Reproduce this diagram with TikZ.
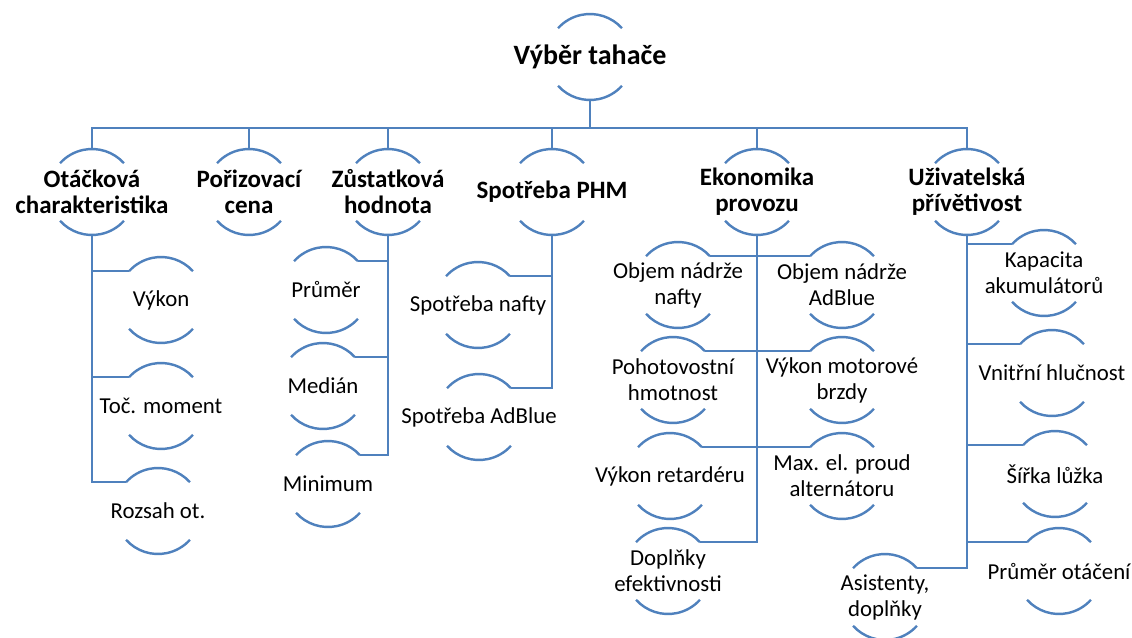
\documentclass[tikz,border=0pt]{standalone}
\usepackage{fontspec}
\setmainfont{Carlito}
\usetikzlibrary{calc}
\definecolor{ln}{RGB}{79,129,189}
\tikzset{
  arcl/.style={draw=ln, line width=2.4pt},
  conn/.style={draw=ln, line width=2.4pt},
  rootlbl/.style={font=\fontsize{28}{32}\selectfont\bfseries, align=center, inner sep=0pt},
  catlbl/.style={font=\fontsize{25}{26}\selectfont\bfseries, align=center, inner sep=0pt},
  itemlbl/.style={font=\fontsize{22.8}{26}\selectfont, align=center, inner sep=0pt},
}
% name, x, y, style, text
\newcommand{\circnode}[5]{%
  \coordinate (#1) at (#2,#3);
  \node[#4] (#1-t) at (#1) {#5};
  \coordinate (#1-tl) at ($(#1)+(138:43pt)$);
  \coordinate (#1-tr) at ($(#1)+(42:43pt)$);
  \coordinate (#1-bl) at ($(#1)+(222:43pt)$);
  \coordinate (#1-top) at ($(#1)+(90:43pt)$);
  \coordinate (#1-bot) at ($(#1)+(270:43pt)$);
  \draw[arcl] (#1-tr) arc[start angle=42, end angle=138, radius=43pt];
  \draw[arcl] (#1-bl) arc[start angle=222, end angle=318, radius=43pt];
}
\begin{document}
\begin{tikzpicture}[x=1pt, y=-1pt]
\fill[white] (0,0) rectangle (1132,637);
\useasboundingbox (0,0) rectangle (1132,637);

% root
\circnode{root}{590}{57}{rootlbl}{Výběr tahače}
% level 1
\circnode{A}{92}{192}{catlbl}{Otáčková\\charakteristika}
\circnode{B}{249}{192}{catlbl}{Pořizovací\\cena}
\circnode{C}{388}{192}{catlbl}{Zůstatková\\hodnota}
\circnode{D}{552}{192}{catlbl}{Spotřeba PHM}
\circnode{E}{757}{192}{catlbl}{Ekonomika\\provozu}
\circnode{F}{967}{192}{catlbl}{Uživatelská\\přívětivost}

% level 2
\circnode{A1}{161}{300}{itemlbl}{Výkon}
\circnode{A2}{161}{406}{itemlbl}{Toč. moment}
\circnode{A3}{158}{511}{itemlbl}{Rozsah ot.}

\circnode{C1}{326}{290}{itemlbl}{Průměr}
\circnode{C2}{323}{386}{itemlbl}{Medián}
\circnode{C3}{328}{484}{itemlbl}{Minimum}

\circnode{D1}{478}{305}{itemlbl}{Spotřeba nafty}
\circnode{D2}{479}{417}{itemlbl}{Spotřeba AdBlue}

\circnode{E1}{678}{285}{itemlbl}{Objem nádrže\\nafty}
\circnode{E2}{673}{380}{itemlbl}{Pohotovostní\\hmotnost}
\circnode{E3}{670}{476}{itemlbl}{Výkon retardéru}
\circnode{E4}{668}{571}{itemlbl}{Doplňky\\efektivnosti}
\circnode{E5}{842}{285}{itemlbl}{Objem nádrže\\AdBlue}
\circnode{E6}{842}{380}{itemlbl}{Výkon motorové\\brzdy}
\circnode{E7}{842}{476}{itemlbl}{Max. el. proud\\alternátoru}

\circnode{F1}{1044}{273}{itemlbl}{Kapacita\\akumulátorů}
\circnode{F2}{1052}{373}{itemlbl}{Vnitřní hlučnost}
\circnode{F3}{1055}{474}{itemlbl}{Šířka lůžka}
\circnode{F4}{1059}{571}{itemlbl}{Průměr otáčení}
\circnode{F5}{885}{597}{itemlbl}{Asistenty,\\doplňky}

% bus
\coordinate (bus) at (590,128);
\draw[conn] (root-bot) -- (bus);
\draw[conn] (A-top) -- (A-top |- bus) -- (F-top |- bus) -- (F-top);
\foreach \n in {B,C,D,E} \draw[conn] (\n-top |- bus) -- (\n-top);

% level-2 connectors
\foreach \n in {A1,A2,A3} \draw[conn] (A-bot) |- (\n-tl);
\foreach \n in {C1,C2,C3} \draw[conn] (C-bot) |- (\n-tr);
\foreach \n in {D1,D2} \draw[conn] (D-bot) |- (\n-tr);
\foreach \n in {E1,E2,E3,E4} \draw[conn] (E-bot) |- (\n-tr);
\foreach \n in {E5,E6,E7} \draw[conn] (E-bot) |- (\n-tl);
\foreach \n in {F1,F2,F3,F4} \draw[conn] (F-bot) |- (\n-tl);
\draw[conn] (F-bot) |- (F5-tr);
\end{tikzpicture}
\end{document}
